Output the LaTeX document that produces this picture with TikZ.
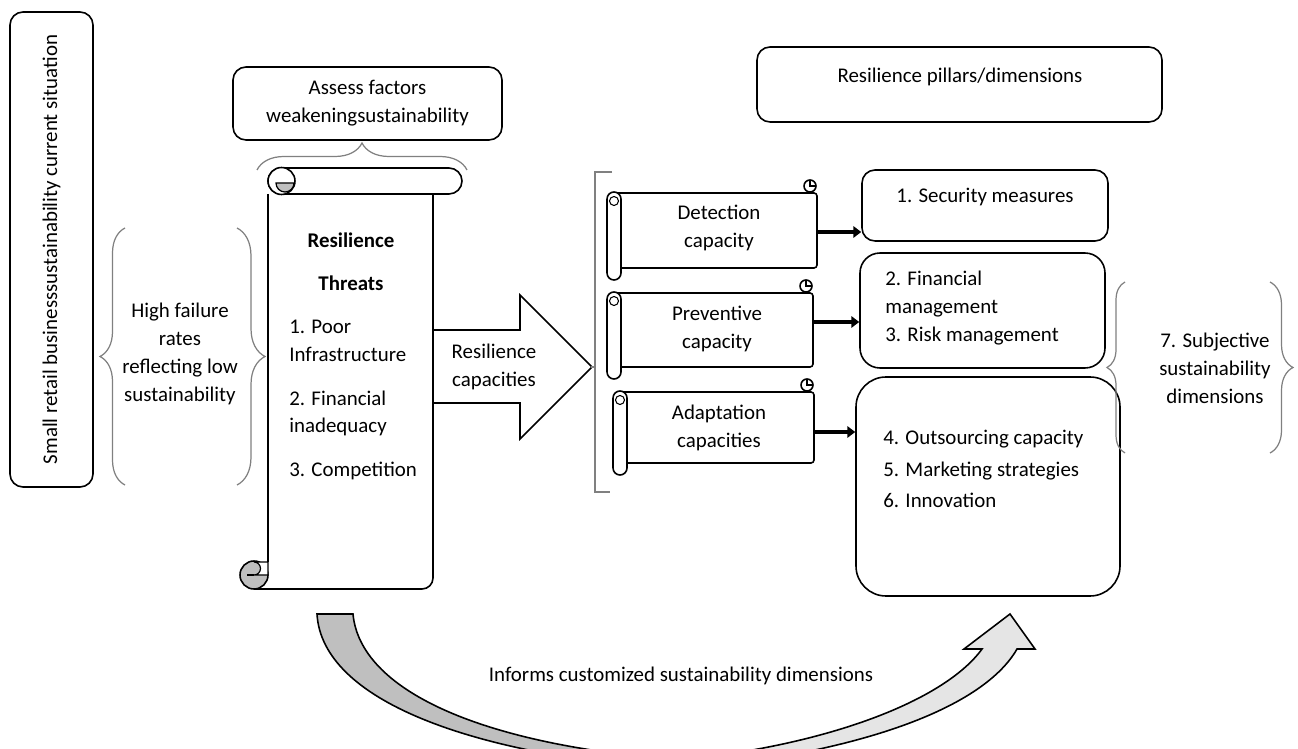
\documentclass[tikz,border=0pt]{standalone}
\usepackage{fontspec}
\setmainfont{Carlito}
\usepackage{tikz}
\usetikzlibrary{arrows.meta,decorations.pathreplacing}

\newlength\px
\setlength\px{0.02cm}

% horizontal scroll: left x, top y, right x, bottom y
\newcommand\hscroll[4]{%
\draw[line width=0.9pt, rounded corners=3\px] ({#1+10},#2) -- (#3,#2) -- (#3,#4) -- ({#1+14},#4);
\draw[line width=0.9pt, fill=white] ({#3-7},{#2-7}) circle (6\px);
\draw[line width=0.6pt] ({#3-7},{#2-13}) -- ({#3-7},{#2-7}) -- ({#3-1},{#2-7});
\draw[line width=0.9pt, fill=white, rounded corners=7\px] (#1,{#2-1}) rectangle ({#1+14},{#4+12});
\draw[line width=0.6pt] ({#1+7},{#2+8}) circle (4.5\px);
}

\begin{document}
\fontsize{11.9}{15.9}\selectfont
\begin{tikzpicture}[x=0.02cm,y=-0.02cm,
  box/.style={draw, line width=0.9pt, rounded corners=13\px},
  brc/.style={draw=gray, line width=0.7pt, decorate, decoration={brace, amplitude=#1}},
  fat/.style={line width=1.9pt, -{Triangle[length=4.5pt, width=6.5pt]}}]
\useasboundingbox (0,0) rectangle (1298,749);
\clip (0,0) rectangle (1298,749);
%
\node[box, rotate=90, minimum width=475\px, minimum height=83\px] (situ) at (51.5,249.5) {Small retail businesssustainability current situation};
%
\draw[brc=25\px] (125,485) -- (125,228);
\draw[brc=28\px] (237,228) -- (237,485);
\node[align=center] (fail) at (180,354) {High failure\\rates\\reflecting low\\sustainability};
%
\node[box, minimum width=269\px, minimum height=73\px, align=center] (assess) at (367.5,103.5) {Assess factors\\weakeningsustainability};
\draw[brc=27\px] (257,170) -- (467,170);
%
% threats scroll
\draw[line width=0.9pt, rounded corners=13\px] (268,168) rectangle (462,194);
\draw[line width=0.9pt, fill=white] (281.5,181) circle (13.5\px);
\draw[line width=0.7pt, fill=black!25] (276,183) -- (294,183) arc (0:-180:9\px) -- cycle;
\draw[line width=0.9pt] (268,194) -- (268,562);
\draw[line width=0.9pt, rounded corners=11\px] (433,194) -- (433,589) -- (254,589);
\draw[line width=0.9pt, fill=black!25] (254,575) circle (14\px);
\draw[line width=0.7pt, fill=white] (254,575) arc (-90:90:6.5\px) -- (268,562) -- (268,575) -- cycle;
\draw[line width=0.7pt] (247,575) -- (254,575);
\node (res) at (351,240) {\bfseries Resilience};
\node (thr) at (351,283) {\bfseries Threats};
\node[anchor=west, align=left] (threats) at (282,400) {1. Poor\\Infrastructure\\[9pt]2. Financial\\inadequacy\\[9pt]3. Competition};
%
\draw[line width=0.9pt] (433,330) -- (520,330) -- (520,295) -- (592,367) -- (520,439) -- (520,403) -- (433,403);
\node[align=center] (rescap) at (494,367) {Resilience\\capacities};
%
\draw[gray, line width=0.9pt] (612,172) -- (595,172) -- (595,492) -- (610,492);
\draw[gray, line width=0.9pt] (591,367) -- (595,367);
%
\hscroll{607}{193}{817}{268}
\node[align=center] (detect) at (719,228) {Detection\\capacity};
\coordinate (detect-r) at (817,232);
\hscroll{607}{293}{813}{367}
\node[align=center] (prevent) at (717,329) {Preventive\\capacity};
\coordinate (prevent-r) at (813,322);
\hscroll{613}{392}{814}{463}
\node[align=center] (adapt) at (719,428) {Adaptation\\capacities};
\coordinate (adapt-r) at (814,432);
%
\node[box, minimum width=405\px, minimum height=75\px] (pillars) at (959.5,84.5) {};
\node (pillarstxt) at (960,77) {Resilience pillars/dimensions};
\node[box, minimum width=246\px, minimum height=71\px] (secur) at (985,205.5) {};
\node (securtxt) at (985,197) {1. Security measures};
\node[box, rounded corners=20\px, minimum width=245\px, minimum height=115\px] (finan) at (982.5,310.5) {};
\node[anchor=west, align=left] (finantxt) at (878,308) {2. Financial\\management\\3. Risk management};
\node[box, rounded corners=30\px, minimum width=264\px, minimum height=219\px] (outs) at (988,486.5) {};
\node[anchor=west, align=left] (outstxt) at (876,469) {4. Outsourcing capacity\\[2pt]5. Marketing strategies\\[2pt]6. Innovation};
%
\draw[fat] (detect-r) -- (detect-r -| secur.west);
\draw[fat] (prevent-r) -- (prevent-r -| finan.west);
\draw[fat] (adapt-r) -- (adapt-r -| outs.west);
%
\draw[brc=18\px] (1125,453) -- (1125,282);
\draw[brc=23\px] (1270,282) -- (1270,453);
\node[align=center] (subj) at (1215,368) {7. Subjective\\sustainability\\dimensions};
%
% curved arrow
\draw[line width=0.9pt, fill=black!25] (317,614) -- (353,614) .. controls (360,690) and (480,745) .. (680,760) -- (680,770) .. controls (470,755) and (322,700) .. (317,614) -- cycle;
\draw[line width=0.9pt, fill=black!10] (680,760) .. controls (830,745) and (945,700) .. (982,649) -- (964,649) -- (1010,614) -- (1035,649) -- (1017,649) .. controls (985,705) and (870,752) .. (680,770) -- cycle;
\node (informs) at (681,676) {Informs customized sustainability dimensions};
\end{tikzpicture}
\end{document}
